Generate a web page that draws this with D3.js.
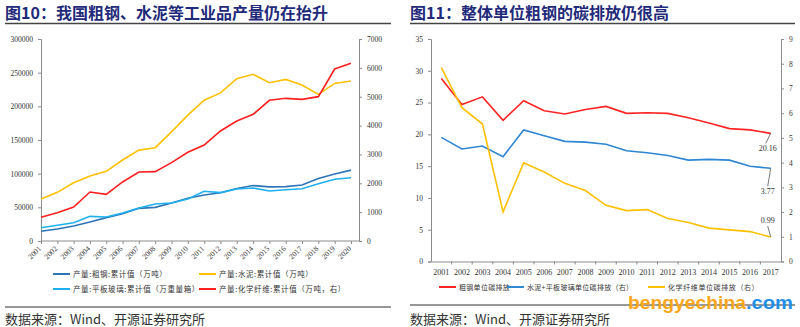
<!DOCTYPE html>
<html>
<head>
<meta charset="utf-8">
<script src="https://d3js.org/d3.v7.min.js"></script>
<style>
  body { margin: 0; background: #fff; }
  svg { display: block; }
</style>
</head>
<body>
<div id="chart"></div>
<script>

// ---- data: figure 10 (output of industrial products)
var years1 = ["2001","2002","2003","2004","2005","2006","2007","2008","2009","2010",
              "2011","2012","2013","2014","2015","2016","2017","2018","2019","2020"];
var steel = [14400,17800,22300,28200,34700,40600,48500,50000,56400,63400,
             68300,71700,77900,82300,80400,80800,83200,92800,99600,105300];
var cement = [62400,72300,86600,96500,103500,120300,135000,138600,162000,187000,
              209000,220000,241000,247600,235000,240000,231600,217700,234000,237700];
var glass = [19800,23300,27200,36600,35600,41600,49000,55000,56400,62400,
             73800,71800,77200,78700,74300,76200,77700,85100,91600,94000];
var fiber = [820,982,1178,1698,1617,2045,2391,2403,2714,3073,
             3327,3812,4158,4389,4875,4944,4909,5002,5960,6157];
var leftTicks1 = [0,50000,100000,150000,200000,250000,300000];
var rightTicks1 = [0,1000,2000,3000,4000,5000,6000,7000];

// ---- data: figure 11 (carbon emission per unit)
var years2 = ["2001","2002","2003","2004","2005","2006","2007","2008","2009",
              "2010","2011","2012","2013","2014","2015","2016","2017"];
var steelCO2 = [28.8,24.7,25.9,22.2,25.3,23.7,23.2,23.9,24.4,23.3,23.4,23.3,22.6,21.8,20.9,20.7,20.16];
var cementGlassCO2 = [5.02,4.55,4.67,4.24,5.32,5.09,4.86,4.83,4.74,4.48,4.40,4.29,4.10,4.13,4.10,3.85,3.77];
var fiberCO2 = [7.84,6.22,5.56,2.01,3.99,3.62,3.16,2.87,2.27,2.06,2.10,1.74,1.58,1.35,1.28,1.21,0.99];
var leftTicks2 = [0,5,10,15,20,25,30,35];
var rightTicks2 = [0,1,2,3,4,5,6,7,8,9];

var W = 800, H = 327;
var serif = "'Liberation Serif', 'Times New Roman', serif";
var cjk = "'Noto Sans CJK SC', sans-serif";
var axisColor = "#8c8c8c";
var textColor = "#333";

var svg = d3.select("#chart").append("svg")
  .attr("width", W).attr("height", H);

// ---------- helpers
function header(x0, x1, label) {
  svg.append("text")
    .attr("x", x0).attr("y", 18.5)
    .style("font-family", cjk).style("font-weight", "bold")
    .style("font-size", "16px").attr("fill", "#1f2a7a")
    .text(label);
  svg.append("line")
    .attr("x1", x0).attr("x2", x1).attr("y1", 23.5).attr("y2", 23.5)
    .attr("stroke", "#444").attr("stroke-width", 1.5);
}
function footer(x0, x1, yLine) {
  svg.append("line")
    .attr("x1", x0).attr("x2", x1).attr("y1", yLine).attr("y2", yLine)
    .attr("stroke", "#333").attr("stroke-width", 1.2);
  svg.append("text")
    .attr("x", x0).attr("y", 324)
    .style("font-family", cjk).style("font-size", "13px")
    .attr("fill", textColor)
    .text("数据来源：Wind、开源证券研究所");
}
function styleAxis(g) {
  g.selectAll("path, line").attr("stroke", axisColor);
  g.selectAll("text").style("font-family", serif).style("font-size", "7.5px").attr("fill", textColor);
}
function legendItem(x, y, color, label, size, spacing) {
  svg.append("line")
    .attr("x1", x).attr("x2", x + 17).attr("y1", y).attr("y2", y)
    .attr("stroke", color).attr("stroke-width", 2);
  svg.append("text")
    .attr("x", x + 20).attr("y", y + 2.5)
    .style("font-family", cjk).style("font-size", size + "px")
    .style("letter-spacing", spacing + "px")
    .attr("fill", textColor)
    .text(label);
}

// ================= Figure 10 =================
header(5, 391, "图10：我国粗钢、水泥等工业品产量仍在抬升");

var p1 = {left: 41, right: 359, top: 39, bottom: 241};

var x1 = d3.scalePoint().domain(years1).range([p1.left, 351]);
var yL1 = d3.scaleLinear().domain([0, 300000]).range([p1.bottom, p1.top]);
var yR1 = d3.scaleLinear().domain([0, 7000]).range([p1.bottom, p1.top]);

svg.append("g")
  .attr("transform", "translate(" + p1.left + ",0)")
  .call(d3.axisLeft(yL1).tickValues(leftTicks1).tickSize(3).tickPadding(5).tickFormat(d3.format("d")))
  .call(styleAxis);
svg.append("g")
  .attr("transform", "translate(" + p1.right + ",0)")
  .call(d3.axisRight(yR1).tickValues(rightTicks1).tickSize(3).tickPadding(5).tickFormat(d3.format("d")))
  .call(styleAxis);

var xAx1 = svg.append("g")
  .attr("transform", "translate(0," + p1.bottom + ")")
  .call(d3.axisBottom(x1).tickSize(3).tickSizeOuter(0))
  .call(styleAxis);
xAx1.select(".domain").remove();
xAx1.append("line")
  .attr("x1", p1.left).attr("x2", p1.right)
  .attr("stroke", axisColor);
xAx1.selectAll("text")
  .attr("transform", "translate(-6,2) rotate(-45)")
  .style("text-anchor", "end")
  .attr("dy", "0.35em");

var series1 = [
  {name: "产量:粗钢:累计值（万吨）", values: steel, color: "#2e75b6", y: yL1},
  {name: "产量:水泥:累计值（万吨）", values: cement, color: "#ffc000", y: yL1},
  {name: "产量:平板玻璃:累计值（万重量箱）", values: glass, color: "#1fb0ef", y: yL1},
  {name: "产量:化学纤维:累计值（万吨，右）", values: fiber, color: "#ff1f1f", y: yR1}
];

series1.forEach(function(s) {
  var line = d3.line()
    .x(function(d, i) { return x1(years1[i]); })
    .y(function(d) { return s.y(d); });
  svg.append("path")
    .datum(s.values)
    .attr("d", line)
    .attr("fill", "none")
    .attr("stroke", s.color)
    .attr("stroke-width", 1.6);
});

legendItem(53, 274, series1[0].color, series1[0].name, 7.5, 0.6);
legendItem(199, 274, series1[1].color, series1[1].name, 7.5, 0.6);
legendItem(53, 289, series1[2].color, series1[2].name, 7.5, 0.6);
legendItem(199, 289, series1[3].color, series1[3].name, 7.5, 0.6);

footer(5, 391, 307);

// ================= Figure 11 =================
header(410, 795, "图11：整体单位粗钢的碳排放仍很高");

var p2 = {left: 431, right: 781, top: 39, bottom: 261.5};

var x2 = d3.scaleBand().domain(years2).range([p2.left, p2.right]);
var yL2 = d3.scaleLinear().domain([0, 35]).range([p2.bottom, p2.top]);
var yR2 = d3.scaleLinear().domain([0, 9]).range([p2.bottom, p2.top]);

svg.append("g")
  .attr("transform", "translate(" + p2.left + ",0)")
  .call(d3.axisLeft(yL2).tickValues(leftTicks2).tickSize(3).tickPadding(5))
  .call(styleAxis);
svg.append("g")
  .attr("transform", "translate(" + p2.right + ",0)")
  .call(d3.axisRight(yR2).tickValues(rightTicks2).tickSize(3).tickPadding(5))
  .call(styleAxis);

var xAx2 = svg.append("g")
  .attr("transform", "translate(0," + p2.bottom + ")")
  .call(d3.axisBottom(x2).tickSize(0).tickPadding(8).tickSizeOuter(0))
  .call(styleAxis);
// ticks between the categories
xAx2.selectAll(".sep")
  .data(years2.slice(1))
  .enter().append("line")
  .attr("class", "sep")
  .attr("x1", function(d) { return x2(d); })
  .attr("x2", function(d) { return x2(d); })
  .attr("y1", 0).attr("y2", 3)
  .attr("stroke", axisColor);
xAx2.selectAll("text").style("font-size", "8px");

var series2 = [
  {name: "粗钢单位碳排放", values: steelCO2, color: "#ff2424", y: yL2},
  {name: "水泥+平板玻璃单位碳排放（右）", values: cementGlassCO2, color: "#2f86d2", y: yR2},
  {name: "化学纤维单位碳排放（右）", values: fiberCO2, color: "#ffc000", y: yR2}
];

var bw = x2.bandwidth() / 2;
series2.forEach(function(s) {
  var line = d3.line()
    .x(function(d, i) { return x2(years2[i]) + bw; })
    .y(function(d) { return s.y(d); });
  svg.append("path")
    .datum(s.values)
    .attr("d", line)
    .attr("fill", "none")
    .attr("stroke", s.color)
    .attr("stroke-width", 1.6);
});

// end-value callouts
var lastYear = years2[years2.length - 1];
var lx = x2(lastYear) + bw;
var callouts = [
  {s: series2[0], dx: -5, dy: 10, label: "20.16"},
  {s: series2[1], dx: -3, dy: 18, label: "3.77"},
  {s: series2[2], dx: -3, dy: -11, label: "0.99"}
];
callouts.forEach(function(c) {
  var v = c.s.values[c.s.values.length - 1];
  var py = c.s.y(v);
  svg.append("line")
    .attr("x1", lx).attr("y1", py)
    .attr("x2", lx + c.dx).attr("y2", py + c.dy)
    .attr("stroke", "#555").attr("stroke-width", 0.8);
  svg.append("text")
    .attr("x", lx - 3)
    .attr("y", py + c.dy + (c.dy > 0 ? 8 : -3))
    .attr("text-anchor", "middle")
    .style("font-family", serif).style("font-size", "8px")
    .attr("fill", textColor)
    .text(c.label);
});

legendItem(439, 287, series2[0].color, series2[0].name, 7, 0.3);
legendItem(507, 287, series2[1].color, series2[1].name, 7, 0.3);
legendItem(648, 287, series2[2].color, series2[2].name, 7, 0.6);

footer(410, 795, 305);

// watermark
svg.append("text")
  .attr("x", 628).attr("y", 309)
  .attr("textLength", 118).attr("lengthAdjust", "spacingAndGlyphs")
  .style("font-family", "'Liberation Sans', Arial, sans-serif")
  .style("font-size", "19px").style("font-weight", "bold")
  .attr("fill", "#f9a61a")
  .text("bengyechina");
svg.append("text")
  .attr("x", 746).attr("y", 309)
  .attr("textLength", 47).attr("lengthAdjust", "spacingAndGlyphs")
  .style("font-family", "'Liberation Sans', Arial, sans-serif")
  .style("font-size", "19px").style("font-weight", "bold")
  .attr("fill", "#1e8fe8")
  .text(".com");

</script>
</body>
</html>
